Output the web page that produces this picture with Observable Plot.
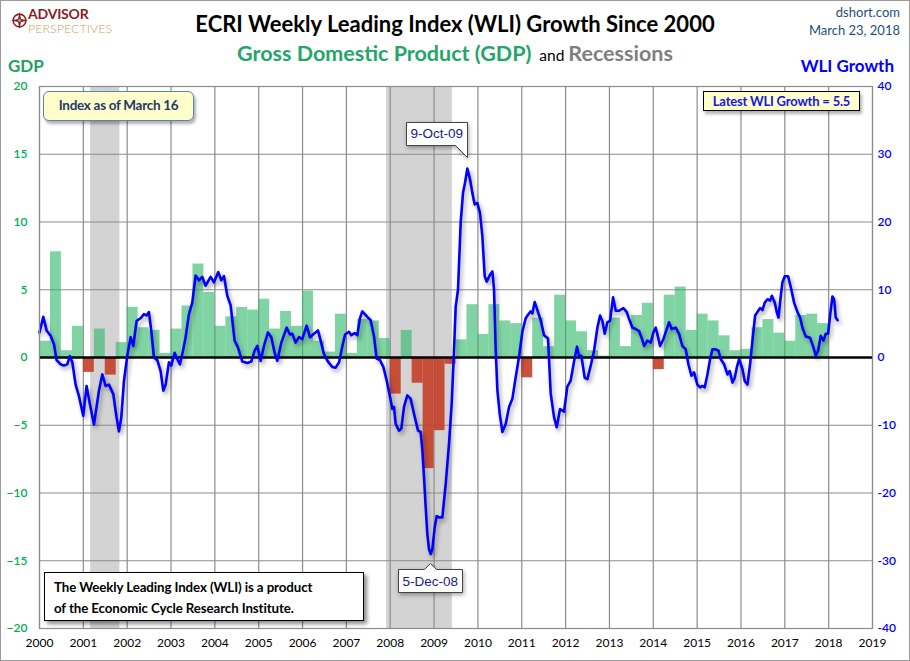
<!DOCTYPE html>
<html>
<head>
<meta charset="utf-8">
<script src="https://cdn.jsdelivr.net/npm/d3@7"></script>
<script src="https://cdn.jsdelivr.net/npm/@observablehq/plot@0.6"></script>
<style>
  body { margin: 0; background: #fff; }
  #wrap { position: relative; width: 910px; height: 661px; overflow: hidden; font-family: Lato, "Open Sans", sans-serif; background: #fff; }
  #wrap > svg { position: absolute; left: 0; top: 0; }
  #border { position: absolute; left: 0; top: 0; width: 910px; height: 661px; box-sizing: border-box; border: 1px solid #9a9a9a; pointer-events: none; }
  .ov { position: absolute; white-space: nowrap; line-height: 1; }
  .callout text, .callout tspan { fill: #1a1a80 !important; }
</style>
</head>
<body>
<div id="wrap">
  <svg width="17" height="17" viewBox="0 0 16 16" style="position:absolute;left:11px;top:12px;">
    <circle cx="8" cy="8" r="6" fill="none" stroke="#8b1c24" stroke-width="1.5"/>
    <path d="M8 0 L9.4 6.6 L16 8 L9.4 9.4 L8 16 L6.6 9.4 L0 8 L6.6 6.6 Z" fill="#8b1c24"/>
    <circle cx="8" cy="8" r="1.4" fill="#c9a45c"/>
  </svg>
  <div class="ov" style="left:28px;top:7px;height:14px;line-height:14px;font-size:14px;font-weight:700;color:#8b1c24;letter-spacing:-0.2px;">ADVISOR</div>
  <div class="ov" style="left:28px;top:22px;height:14px;line-height:14px;font-size:12.5px;font-weight:300;color:#c9a45c;letter-spacing:0px;">PERSPECTIVES</div>
  <div class="ov" style="left:0;width:910px;top:13px;text-align:center;font-size:22px;font-weight:700;color:#000;">ECRI Weekly Leading Index (WLI) Growth Since 2000</div>
  <div class="ov" style="left:0;width:910px;top:43px;text-align:center;font-size:21.5px;font-weight:700;"><span style="color:#24a56a;">Gross Domestic Product (GDP)</span><span style="color:#000;font-size:15.5px;font-weight:400;">&nbsp; and&nbsp;</span><span style="color:#7f7f7f;">Recessions</span></div>
  <div class="ov" style="right:10px;top:6px;font-size:13px;color:#1f4e79;text-align:right;">dshort.com</div>
  <div class="ov" style="right:10px;top:24px;font-size:13px;color:#1f4e79;text-align:right;">March 23, 2018</div>
  <div class="ov" style="left:8px;top:57px;font-size:17px;font-weight:700;color:#22a060;">GDP</div>
  <div class="ov" style="right:16px;top:57px;font-size:17px;font-weight:700;color:#0000ff;">WLI Growth</div>
  <div id="border"></div>
</div>
<script>
// ---------- DATA ----------
// Real GDP, quarterly SAAR %, 2000Q1 .. 2017Q4
const gdpStartYear = 2000;
const gdpValues = [
  1.2, 7.8, 0.5, 2.3,
  -1.1, 2.1, -1.3, 1.1,
  3.7, 2.2, 2.0, 0.3,
  2.1, 3.8, 6.9, 4.8,
  2.3, 3.0, 3.7, 3.5,
  4.3, 2.1, 3.4, 2.3,
  4.9, 1.2, 0.4, 3.2,
  0.3, 2.8, 2.7, 1.4,
  -2.7, 2.0, -1.9, -8.2,
  -5.4, -0.5, 1.3, 3.9,
  1.7, 3.9, 2.7, 2.5,
  -1.5, 2.9, 0.8, 4.6,
  2.7, 1.9, 0.5, 0.1,
  2.9, 0.8, 3.1, 4.0,
  -0.9, 4.6, 5.2, 2.0,
  3.2, 2.7, 1.6, 0.5,
  0.6, 2.2, 2.8, 1.8,
  1.2, 3.1, 3.2, 2.5
];

// ECRI WLI growth (decimal year, value)
const wliDates = [
  2000.000, 2000.086, 2000.162, 2000.253, 2000.329, 2000.390, 2000.481, 2000.557, 2000.633, 2000.694,
  2000.748, 2000.824, 2000.900, 2000.998, 2001.074, 2001.150, 2001.242, 2001.356, 2001.432, 2001.508,
  2001.584, 2001.683, 2001.759, 2001.812, 2001.865, 2001.926, 2002.002, 2002.078, 2002.139, 2002.215,
  2002.306, 2002.382, 2002.443, 2002.496, 2002.549, 2002.610, 2002.687, 2002.763, 2002.823, 2002.877,
  2002.953, 2003.006, 2003.082, 2003.143, 2003.204, 2003.280, 2003.333, 2003.409, 2003.485, 2003.561,
  2003.637, 2003.713, 2003.789, 2003.903, 2003.979, 2004.078, 2004.147, 2004.208, 2004.284, 2004.360,
  2004.451, 2004.527, 2004.626, 2004.740, 2004.831, 2004.907, 2004.968, 2005.044, 2005.120, 2005.211,
  2005.287, 2005.363, 2005.424, 2005.516, 2005.637, 2005.713, 2005.766, 2005.842, 2005.918, 2005.994,
  2006.093, 2006.169, 2006.260, 2006.352, 2006.413, 2006.489, 2006.580, 2006.679, 2006.756, 2006.833,
  2006.909, 2006.970,
  2007.059, 2007.112, 2007.188, 2007.249, 2007.310, 2007.363, 2007.477, 2007.553, 2007.630, 2007.690,
  2007.767, 2007.843, 2007.919, 2007.995, 2008.048, 2008.086, 2008.124, 2008.200, 2008.253, 2008.314,
  2008.390, 2008.466, 2008.542, 2008.634, 2008.695, 2008.733, 2008.771, 2008.809, 2008.847, 2008.885,
  2008.923, 2008.961, 2009.014, 2009.060, 2009.113, 2009.189, 2009.265, 2009.341, 2009.402, 2009.455,
  2009.493, 2009.546, 2009.607, 2009.660, 2009.706, 2009.759, 2009.820, 2009.873, 2009.926, 2009.987,
  2010.048, 2010.101, 2010.155, 2010.200, 2010.276, 2010.330, 2010.368, 2010.406, 2010.444, 2010.497,
  2010.558, 2010.634, 2010.710, 2010.786, 2010.862, 2010.938, 2011.014, 2011.090, 2011.143, 2011.204,
  2011.242, 2011.295, 2011.356, 2011.432, 2011.508, 2011.599, 2011.660, 2011.736, 2011.797, 2011.873,
  2011.964, 2012.040, 2012.116, 2012.192, 2012.260,
  2012.306, 2012.359, 2012.436, 2012.497, 2012.573, 2012.649, 2012.725, 2012.786, 2012.839, 2012.892,
  2012.953, 2013.014, 2013.083, 2013.143, 2013.219, 2013.318, 2013.394, 2013.448, 2013.524, 2013.600,
  2013.676, 2013.729, 2013.790, 2013.866, 2013.942, 2014.003, 2014.056, 2014.109, 2014.155, 2014.230,
  2014.307, 2014.360, 2014.421, 2014.512, 2014.588, 2014.664, 2014.740, 2014.801, 2014.870, 2014.930,
  2015.006, 2015.067, 2015.121, 2015.174, 2015.235, 2015.296, 2015.349, 2015.425, 2015.486, 2015.539,
  2015.615, 2015.691, 2015.744, 2015.805, 2015.858, 2015.904, 2015.958, 2016.033, 2016.087, 2016.148,
  2016.208, 2016.262, 2016.323, 2016.376, 2016.437, 2016.490, 2016.543, 2016.604, 2016.665, 2016.703,
  2016.771, 2016.817, 2016.855, 2016.908, 2016.946, 2016.999, 2017.075, 2017.136, 2017.212, 2017.288,
  2017.349, 2017.402, 2017.478, 2017.577, 2017.653, 2017.706, 2017.759, 2017.820, 2017.881, 2017.934,
  2017.987, 2018.033, 2018.086, 2018.124, 2018.162, 2018.205
];
const wliValues = [
  3.7, 6.0, 4.0, 3.2, 2.0, -0.4, -1.0, -1.2, -1.0, 0.2,
  -0.7, -4.0, -5.7, -8.6, -4.2, -6.9, -9.9, -4.9, -2.5, -4.2,
  -4.0, -5.4, -8.9, -10.9, -8.9, -3.5, 0.25, 3.0, 1.7, 5.4,
  5.8, 6.4, 6.2, 6.7, 4.0, 0.0, -0.4, -2.0, -4.9, -4.0,
  -0.7, -1.2, 0.7, -0.25, -1.0, 1.2, 3.0, 6.4, 8.1, 12.1,
  11.4, 11.9, 10.6, 11.9, 11.1, 12.6, 11.4, 12.0, 9.1, 7.7,
  2.5, 1.5, -0.6, -0.8, -0.6, 1.0, 1.7, -0.5, 1.7, 3.7,
  3.0, 0.7, -0.5, 2.2, 4.4, 3.4, 3.5, 2.2, 3.0, 2.7,
  4.7, 3.0, 3.5, 4.0, 2.5, 0.5, -0.6, -1.4, -1.5, -0.7,
  1.7, 3.4,
  3.8, 3.3, 3.6, 3.3, 5.8, 6.8, 6.0, 5.5, 3.1, -0.15,
  -0.4, -1.4, -3.4, -5.8, -7.6, -7.3, -9.8, -10.8, -10.5, -7.3,
  -5.6, -6.1, -8.3, -10.8, -11.0, -13.7, -17.7, -22.1, -26.1, -28.3,
  -29.0, -28.3, -25.1, -23.4, -23.6, -23.6, -18.7, -12.7, -6.8, 1.1,
  7.5, 10.0, 19.9, 24.3, 25.8, 27.9, 26.3, 24.3, 22.6, 22.8,
  21.3, 17.9, 12.0, 11.2, 12.2, 12.7, 10.0, 1.1, -4.8, -8.3,
  -11.0, -9.8, -7.3, -6.1, -2.9, 0.1, 3.8, 5.8, 6.3, 6.8,
  6.5, 8.2, 7.0, 5.5, 3.3, 2.8, -5.3, -8.8, -10.3, -7.6,
  -8.0, -4.3, -3.4, -0.6, 1.6,
  0.25, 0.25, -3.0, -3.2, -1.2, 1.0, 4.4, 6.2, 5.4, 3.5,
  5.2, 5.4, 8.9, 6.9, 6.9, 7.3, 6.7, 5.7, 4.4, 4.2,
  3.9, 3.0, 1.7, 2.5, 2.2, 3.7, 4.4, 3.0, 1.7, 2.7,
  4.2, 5.2, 4.2, 4.4, 3.5, 1.7, 1.2, -1.0, -2.7, -2.2,
  -4.0, -4.4, -4.2, -4.4, -2.5, -0.25, 1.2, 1.2, 1.0, -0.25,
  -1.0, -2.5, -2.0, -3.7, -3.0, -1.5, -0.25, -1.7, -3.5, -4.0,
  -1.0, 2.5, 6.2, 6.7, 7.3, 7.0, 8.1, 8.6, 8.4, 9.1,
  8.1, 6.7, 5.9, 9.1, 11.1, 12.0, 12.0, 10.4, 8.1, 6.7,
  5.9, 4.4, 3.1, 2.9, 1.5, 0.25, 1.0, 3.2, 2.5, 3.5,
  3.5, 6.2, 9.0, 8.6, 5.9, 5.5
];

// NBER recessions (decimal years)
const recessionStart = [2001.167, 2007.917];
const recessionEnd   = [2001.833, 2009.417];

// Callouts
const calloutDates  = [2009.759, 2008.923];
const calloutValues = [27.9, -29.0];
const calloutLabels = ["9-Oct-09", "5-Dec-08"];

// Axes
const yearTicks = [2000, 2001, 2002, 2003, 2004, 2005, 2006, 2007, 2008, 2009, 2010, 2011, 2012, 2013, 2014, 2015, 2016, 2017, 2018, 2019];
const gdpTicks = [-20, -15, -10, -5, 0, 5, 10, 15, 20];
const wliTickLabels = ["-40", "-30", "-20", "-10", "0", "10", "20", "30", "40"];

// ---------- TABLES ----------
const gdp = gdpValues.map((v, i) => ({ x1: gdpStartYear + i / 4, x2: gdpStartYear + (i + 1) / 4, value: v }));
const wli = wliDates.map((d, i) => ({ date: d, value: wliValues[i] }));
const recessions = recessionStart.map((s, i) => ({ start: s, end: recessionEnd[i] }));
const callouts = calloutDates.map((d, i) => ({ date: d, value: calloutValues[i], label: calloutLabels[i] }));

const grid = "#8c8c8c";

const chart = Plot.plot({
  width: 910,
  height: 661,
  marginLeft: 39,
  marginRight: 38,
  marginTop: 86,
  marginBottom: 33,
  style: { fontFamily: "Lato, 'Open Sans', sans-serif", fontSize: "12px", background: "transparent", overflow: "visible" },
  x: { domain: [2000, 2019], label: null },
  y: { domain: [-20, 20], label: null },
  marks: [
    Plot.rect(recessions, { x1: "start", x2: "end", y1: -20, y2: 20, fill: "#d3d3d3" }),
    Plot.ruleX(yearTicks, { stroke: grid, strokeWidth: 1.2 }),
    Plot.ruleY(gdpTicks, { stroke: grid, strokeWidth: 1.2 }),
    Plot.rect(gdp.filter(d => d.value >= 0), { x1: "x1", x2: "x2", y1: 0, y2: "value", fill: "#2bb767", fillOpacity: 0.6 }),
    Plot.rect(gdp.filter(d => d.value < 0), { x1: "x1", x2: "x2", y1: 0, y2: "value", fill: "#c43f28", fillOpacity: 0.9 }),
    Plot.ruleY([0], { stroke: "#000", strokeWidth: 2.6 }),
    Plot.line(wli, { x: "date", y: d => d.value / 2, stroke: "#0000ff", strokeWidth: 2.6, strokeLinejoin: "round",
      imageFilter: "drop-shadow(2px 3px 2px rgba(0,0,0,0.35))" }),
    Plot.frame({ stroke: grid, strokeWidth: 1.2 }),
    Plot.axisY(gdpTicks, { anchor: "left", tickSize: 0, tickPadding: 12, color: "#00b050", fontWeight: 600, fontSize: 12, label: null }),
    Plot.axisY(gdpTicks, { anchor: "right", tickSize: 0, tickPadding: 5, color: "#0000ff", fontWeight: 600, fontSize: 12,
      tickFormat: (d) => wliTickLabels[gdpTicks.indexOf(d)], label: null }),
    Plot.axisX(yearTicks, { tickSize: 0, tickPadding: 10, tickFormat: d => String(d), fontSize: 12, color: "#000", label: null }),
    Plot.tip(callouts.slice(0, 1), { x: "date", y: d => d.value / 2, title: "label", anchor: "bottom-right", dy: -11,
      fill: "#fff", stroke: "#444", fontSize: 13.5, textPadding: 4, fontFamily: "'Liberation Sans', Arial, sans-serif",
      pathFilter: "drop-shadow(1px 2px 2px rgba(0,0,0,0.35))", className: "callout" }),
    Plot.tip(callouts.slice(1, 2), { x: "date", y: d => d.value / 2, title: "label", anchor: "top", dy: 10,
      fill: "#fff", stroke: "#444", fontSize: 13.5, textPadding: 4, fontFamily: "'Liberation Sans', Arial, sans-serif",
      pathFilter: "drop-shadow(1px 2px 2px rgba(0,0,0,0.35))", className: "callout" })
  ]
});

const wrap = document.getElementById("wrap");
wrap.insertBefore(chart, wrap.firstChild);

// Annotation boxes inside the plot
function box(html, style) {
  const d = document.createElement("div");
  d.className = "ov";
  d.innerHTML = html;
  d.setAttribute("style", style);
  wrap.insertBefore(d, document.getElementById("border"));
}
box("Index as of March 16",
  "left:43px;top:91px;width:151px;height:30px;box-sizing:border-box;border:1.5px solid #5b82b6;border-radius:6px;background:#ffffcc;" +
  "box-shadow:2px 3px 3px rgba(0,0,0,0.3);color:#1f3864;font-size:13.5px;font-weight:700;text-align:center;line-height:27px;letter-spacing:-0.3px;");
box("Latest WLI Growth = 5.5",
  "left:703px;top:91px;width:157px;height:20px;box-sizing:border-box;border:1px solid #000;background:#ffffcc;" +
  "box-shadow:2px 3px 3px rgba(0,0,0,0.3);color:#1515e8;font-size:13px;font-weight:700;text-align:center;line-height:18px;letter-spacing:-0.2px;");
box("The Weekly Leading Index (WLI) is a product<br>of the Economic Cycle Research Institute.",
  "left:44px;top:572px;width:320px;height:49px;box-sizing:border-box;border:1.5px solid #000;background:#fff;" +
  "box-shadow:3px 3px 4px rgba(0,0,0,0.45);color:#000;font-size:13.3px;font-weight:700;padding:4px 0 0 9px;line-height:21px;letter-spacing:-0.1px;");
</script>
</body>
</html>
